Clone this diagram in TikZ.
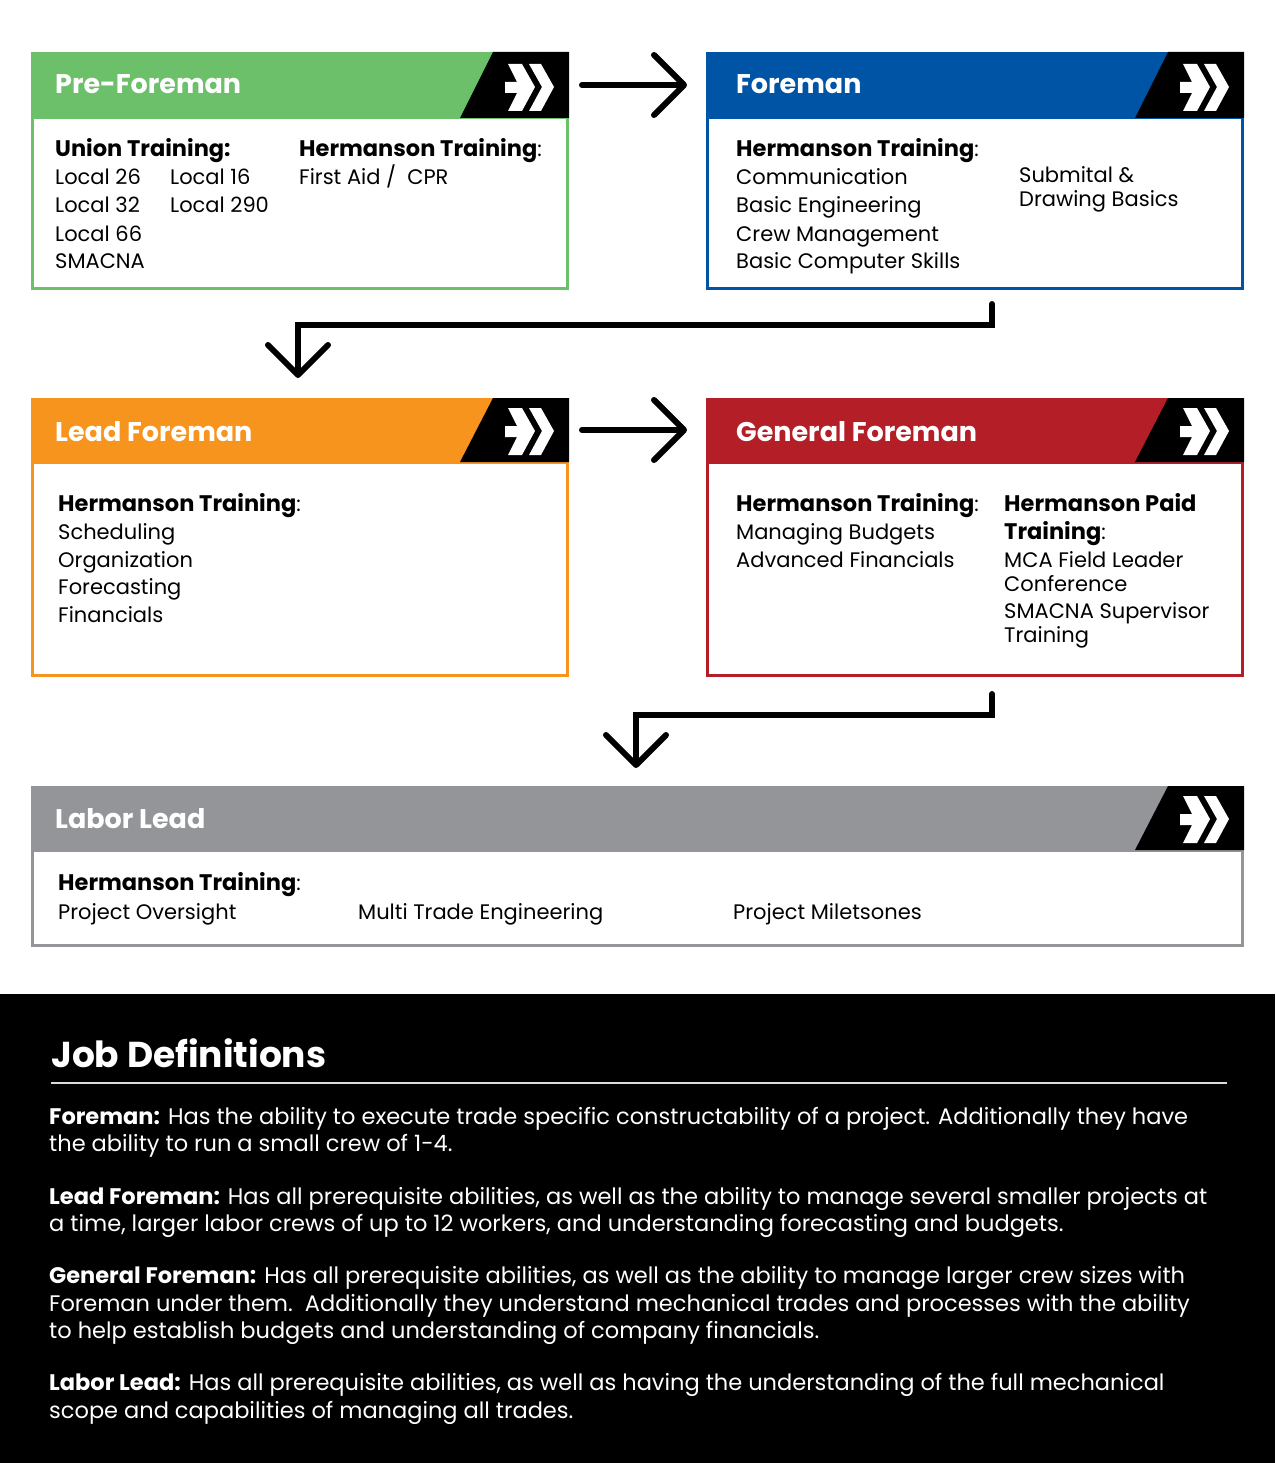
\documentclass[tikz,border=0pt]{standalone}
\usepackage{fontspec}
\setmainfont{Poppins}
\usetikzlibrary{arrows.meta,calc}
\definecolor{cgreen}{RGB}{108,192,106}
\definecolor{cblue}{RGB}{0,84,166}
\definecolor{corange}{RGB}{247,148,29}
\definecolor{cred}{RGB}{180,31,39}
\definecolor{cgray}{RGB}{147,149,152}
\definecolor{crule}{RGB}{220,220,220}
\newcommand{\hb}[1]{{\fontsize{22.5}{26}\selectfont\bfseries #1}}
\tikzset{
  hdrbox/.style={anchor=north west, inner sep=0pt, outer sep=0pt, minimum height=66pt, fill=#1},
  bodybox/.style={anchor=north west, inner sep=0pt, outer sep=0pt, draw=#1, line width=3pt},
  title/.style={anchor=base west, inner sep=0pt, text=white, font=\fontsize{27}{31}\selectfont\bfseries},
  txt/.style={anchor=base west, inner sep=0pt, font=\fontsize{21}{25}\selectfont},
  deftxt/.style={anchor=base west, inner sep=0pt, text=white, font=\fontsize{22.5}{27}\selectfont},
  flow/.style={line width=6pt, line cap=round, line join=miter, -{Straight Barb[length=30pt,width=60pt,round]}},
  chevicon/.pic={
    \fill[white] (3,0) -- (17,0) -- (30,23) -- (17,47) -- (3,47) -- (12,29) -- (0,29) -- (0,18) -- (12,18) -- cycle;
    \fill[white] (24,0) -- (36,0) -- (49,23) -- (36,47) -- (24,47) -- (37,23) -- cycle;
  }
}
\newcommand{\blackflag}[1]{%
  \fill[black] (#1.north east) -- ++(-76,0) -- ++(-33,66) -- (#1.south east) -- cycle;
  \pic at ($(#1.north east)+(-64,12)$) {chevicon};
}
\begin{document}
\begin{tikzpicture}[x=1pt,y=-1pt]
\useasboundingbox[fill=white] (0,0) rectangle (1275,1463);

% ---------- Pre-Foreman ----------
\node[bodybox=cgreen, minimum width=535pt, minimum height=170pt] (pfbody) at (32.5,118) {};
\node[hdrbox=cgreen, minimum width=538pt] (pfhead) at (31,52) {};
\blackflag{pfhead}
\node[title] (pft) at (55,94) {Pre-Foreman};
\node[txt] (pf1) at (55,157) {\hb{Union Training:}};
\node[txt] (pf2) at (55,185) {Local 26};
\node[txt] (pf3) at (170,185) {Local 16};
\node[txt] (pf4) at (55,213) {Local 32};
\node[txt] (pf5) at (170,213) {Local 290};
\node[txt] (pf6) at (55,241) {Local 66};
\node[txt] (pf7) at (55,269) {SMACNA};
\node[txt] (pf8) at (299,157) {\hb{Hermanson Training}:};
\node[txt] (pf9) at (299,185) {First Aid /\ \ CPR};

% ---------- Foreman ----------
\node[bodybox=cblue, minimum width=535pt, minimum height=170pt] (fbody) at (707.5,118) {};
\node[hdrbox=cblue, minimum width=538pt] (fhead) at (706,52) {};
\blackflag{fhead}
\node[title] (ft) at (736,94) {Foreman};
\node[txt] (f1) at (736,157) {\hb{Hermanson Training}:};
\node[txt] (f2) at (736,185) {Communication};
\node[txt] (f3) at (736,213) {Basic Engineering};
\node[txt] (f4) at (736,241) {Crew Management};
\node[txt] (f5) at (736,269) {Basic Computer Skills};
\node[txt] (f6) at (1019,183) {Submital \&};
\node[txt] (f7) at (1019,207) {Drawing Basics};

% ---------- Lead Foreman ----------
\node[bodybox=corange, minimum width=535pt, minimum height=213pt] (lbody) at (32.5,462) {};
\node[hdrbox=corange, minimum width=538pt, minimum height=64pt] (lhead) at (31,398) {};
\fill[black] (lhead.north east) -- ++(-76,0) -- ++(-33,64) -- (lhead.south east) -- cycle;
\pic at ($(lhead.north east)+(-64,10)$) {chevicon};
\node[title] (lt) at (55,441) {Lead Foreman};
\node[txt] (l1) at (58,511) {\hb{Hermanson Training}:};
\node[txt] (l2) at (58,539) {Scheduling};
\node[txt] (l3) at (58,567) {Organization};
\node[txt] (l4) at (58,594) {Forecasting};
\node[txt] (l5) at (58,622) {Financials};

% ---------- General Foreman ----------
\node[bodybox=cred, minimum width=535pt, minimum height=213pt] (gbody) at (707.5,462) {};
\node[hdrbox=cred, minimum width=538pt, minimum height=64pt] (ghead) at (706,398) {};
\fill[black] (ghead.north east) -- ++(-76,0) -- ++(-33,64) -- (ghead.south east) -- cycle;
\pic at ($(ghead.north east)+(-64,10)$) {chevicon};
\node[title] (gt) at (736,441) {General Foreman};
\node[txt] (g1) at (736,511) {\hb{Hermanson Training}:};
\node[txt] (g2) at (736,539) {Managing Budgets};
\node[txt] (g3) at (736,567) {Advanced Financials};
\node[txt] (g4) at (1004,511) {\hb{Hermanson Paid}};
\node[txt] (g5) at (1004,539) {\hb{Training}:};
\node[txt] (g6) at (1004,567) {MCA Field Leader};
\node[txt] (g7) at (1004,591) {Conference};
\node[txt] (g8) at (1004,618) {SMACNA Supervisor};
\node[txt] (g9) at (1004,642) {Training};

% ---------- Labor Lead ----------
\node[bodybox=cgray, minimum width=1210pt, minimum height=95.5pt] (llbody) at (32.5,850) {};
\node[hdrbox=cgray, minimum width=1213pt, minimum height=64pt] (llhead) at (31,786) {};
\fill[black] (llhead.north east) -- ++(-76,0) -- ++(-33,64) -- (llhead.south east) -- cycle;
\pic at ($(llhead.north east)+(-64,10)$) {chevicon};
\node[title] (llt) at (55,828) {Labor Lead};
\node[txt] (ll1) at (58,890) {\hb{Hermanson Training}:};
\node[txt] (ll2) at (58,919) {Project Oversight};
\node[txt] (ll3) at (358,919) {Multi Trade Engineering};
\node[txt] (ll4) at (733,919) {Project Miletsones};

% ---------- connectors ----------
\draw[flow, shorten <=13pt, shorten >=19pt] (pfhead.east) -- (fhead.west);
\draw[flow, shorten <=13pt, shorten >=19pt] (lhead.east) -- (ghead.west);
\coordinate (e1s) at (992,304);
\coordinate (e1t) at (298,378);
\draw[flow] (e1s) -- ++(0,21) -| (e1t);
\coordinate (e2s) at (992,694);
\coordinate (e2t) at (636,768);
\draw[flow] (e2s) -- ++(0,21) -| (e2t);

% ---------- Job definitions ----------
\fill[black] (0,994) rectangle (1275,1463);
\node[anchor=base west, inner sep=0pt, text=white, font=\fontsize{36}{40}\selectfont\bfseries] (jd) at (51,1067) {Job Definitions};
\draw[crule, line width=2pt] (51,1083) -- (1227,1083);
\node[deftxt] (d1) at (49,1124) {\textbf{Foreman:} Has the ability to execute trade specific constructability of a project. Additionally they have};
\node[deftxt] (d2) at (49,1151) {the ability to run a small crew of 1-4.};
\node[deftxt] (d3) at (49,1204) {\textbf{Lead Foreman:} Has all prerequisite abilities, as well as the ability to manage several smaller projects at};
\node[deftxt] (d4) at (49,1231) {a time, larger labor crews of up to 12 workers, and understanding forecasting and budgets.};
\node[deftxt] (d5) at (49,1283) {\textbf{General Foreman:} Has all prerequisite abilities, as well as the ability to manage larger crew sizes with};
\node[deftxt] (d6) at (49,1311) {Foreman under them.\ \ Additionally they understand mechanical trades and processes with the ability};
\node[deftxt] (d7) at (49,1338) {to help establish budgets and understanding of company financials.};
\node[deftxt] (d8) at (49,1390) {\textbf{Labor Lead:} Has all prerequisite abilities, as well as having the understanding of the full mechanical};
\node[deftxt] (d9) at (49,1418) {scope and capabilities of managing all trades.};
\end{tikzpicture}
\end{document}
